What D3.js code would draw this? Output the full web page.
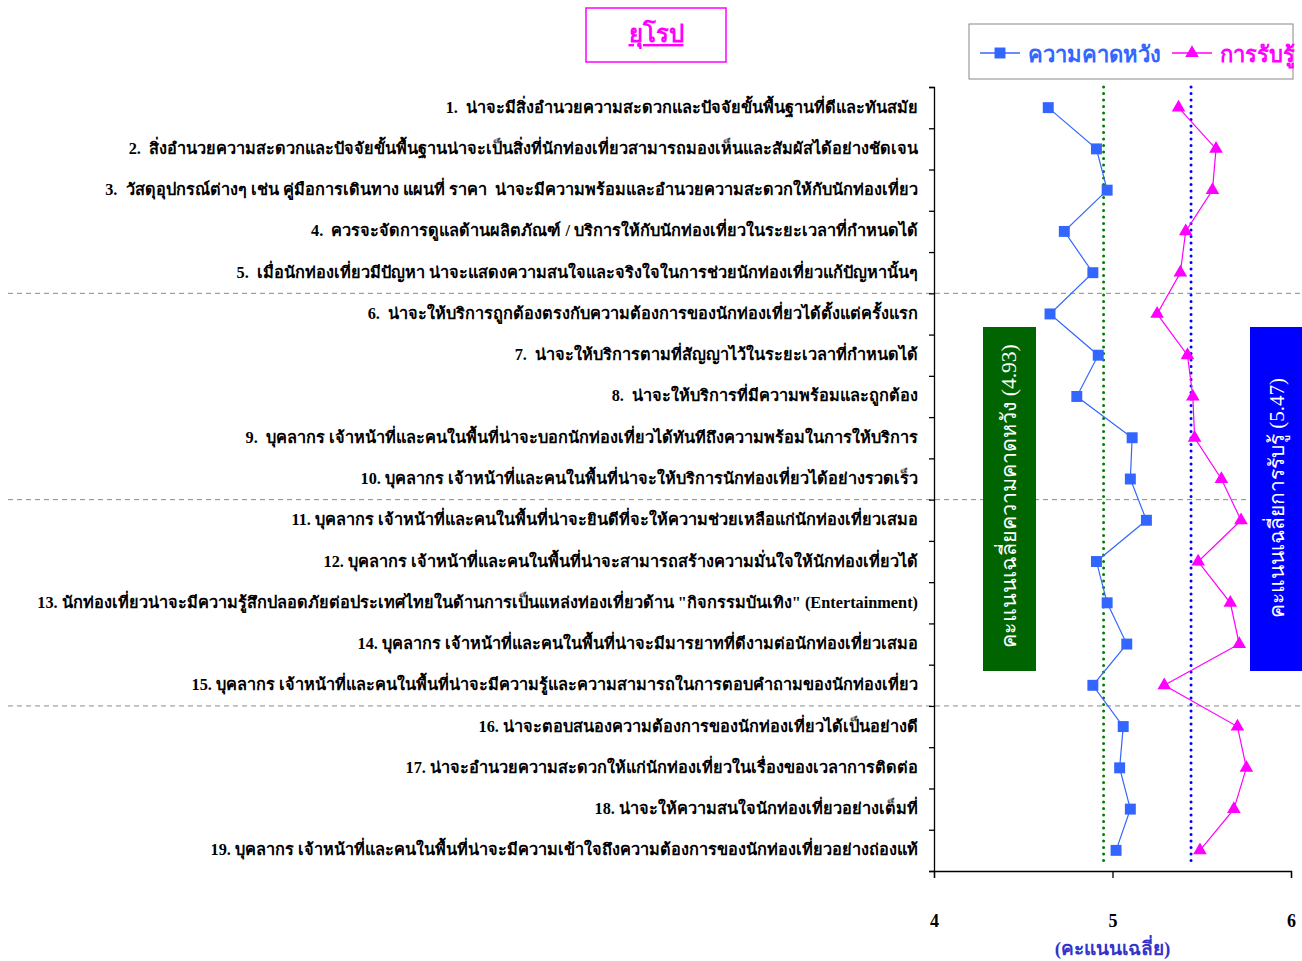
<!DOCTYPE html>
<html><head><meta charset="utf-8">
<script src="https://cdn.jsdelivr.net/npm/d3@7"></script>
<style>
html,body{margin:0;padding:0;background:#fff;}
svg{display:block;}
text{white-space:pre;}
</style></head>
<body>
<svg id="chart" width="1302" height="961"></svg>
<script>
const categories = [
"1.  น่าจะมีสิ่งอำนวยความสะดวกและปัจจัยขั้นพื้นฐานที่ดีและทันสมัย",
"2.  สิ่งอำนวยความสะดวกและปัจจัยขั้นพื้นฐานน่าจะเป็นสิ่งที่นักท่องเที่ยวสามารถมองเห็นและสัมผัสได้อย่างชัดเจน",
"3.  วัสดุอุปกรณ์ต่างๆ เช่น คู่มือการเดินทาง แผนที่ ราคา  น่าจะมีความพร้อมและอำนวยความสะดวกให้กับนักท่องเที่ยว",
"4.  ควรจะจัดการดูแลด้านผลิตภัณฑ์ / บริการให้กับนักท่องเที่ยวในระยะเวลาที่กำหนดได้",
"5.  เมื่อนักท่องเที่ยวมีปัญหา น่าจะแสดงความสนใจและจริงใจในการช่วยนักท่องเที่ยวแก้ปัญหานั้นๆ",
"6.  น่าจะให้บริการถูกต้องตรงกับความต้องการของนักท่องเที่ยวได้ตั้งแต่ครั้งแรก",
"7.  น่าจะให้บริการตามที่สัญญาไว้ในระยะเวลาที่กำหนดได้",
"8.  น่าจะให้บริการที่มีความพร้อมและถูกต้อง",
"9.  บุคลากร เจ้าหน้าที่และคนในพื้นที่น่าจะบอกนักท่องเที่ยวได้ทันทีถึงความพร้อมในการให้บริการ",
"10. บุคลากร เจ้าหน้าที่และคนในพื้นที่น่าจะให้บริการนักท่องเที่ยวได้อย่างรวดเร็ว",
"11. บุคลากร เจ้าหน้าที่และคนในพื้นที่น่าจะยินดีที่จะให้ความช่วยเหลือแก่นักท่องเที่ยวเสมอ",
"12. บุคลากร เจ้าหน้าที่และคนในพื้นที่น่าจะสามารถสร้างความมั่นใจให้นักท่องเที่ยวได้",
"13. นักท่องเที่ยวน่าจะมีความรู้สึกปลอดภัยต่อประเทศไทยในด้านการเป็นแหล่งท่องเที่ยวด้าน \"กิจกรรมบันเทิง\" (Entertainment)",
"14. บุคลากร เจ้าหน้าที่และคนในพื้นที่น่าจะมีมารยาทที่ดีงามต่อนักท่องเที่ยวเสมอ",
"15. บุคลากร เจ้าหน้าที่และคนในพื้นที่น่าจะมีความรู้และความสามารถในการตอบคำถามของนักท่องเที่ยว",
"16. น่าจะตอบสนองความต้องการของนักท่องเที่ยวได้เป็นอย่างดี",
"17. น่าจะอำนวยความสะดวกให้แก่นักท่องเที่ยวในเรื่องของเวลาการติดต่อ",
"18. น่าจะให้ความสนใจนักท่องเที่ยวอย่างเต็มที่",
"19. บุคลากร เจ้าหน้าที่และคนในพื้นที่น่าจะมีความเข้าใจถึงความต้องการของนักท่องเที่ยวอย่างถ่องแท้"
];
const expectation = [4.64,4.91,4.97,4.73,4.89,4.65,4.92,4.80,5.11,5.10,5.19,4.91,4.97,5.08,4.89,5.06,5.04,5.10,5.02];
const perception  = [5.37,5.58,5.56,5.41,5.38,5.25,5.42,5.45,5.46,5.61,5.72,5.48,5.66,5.71,5.29,5.70,5.75,5.68,5.49];
const xTicks = [4,5,6];
const seriesNames = ["ความคาดหวัง","การรับรู้"];
const expAvgPos = 4.95, percAvgPos = 5.44;
const expAvgLabel = "คะแนนเฉลี่ยความคาดหวัง (4.93)";
const percAvgLabel = "คะแนนเฉลี่ยการรับรู้ (5.47)";
const groupBreaks = [5,10,15];
const title = "ยุโรป";
const xTitle = "(คะแนนเฉลี่ย)";

(function(){
const svg = d3.select("#chart");
const FONT = "'Liberation Serif', serif";
const L = 934, R = 1291, T = 87, B = 871;
const x = d3.scaleLinear().domain([4,6]).range([L,R]);
const y = d3.scaleBand().domain(d3.range(categories.length)).range([T,B]);
const yc = i => y(i) + y.bandwidth()/2;

svg.append("g").selectAll("line").data(groupBreaks).join("line")
  .attr("x1",8).attr("x2",1302)
  .attr("y1",d=>y(d)).attr("y2",d=>y(d))
  .attr("stroke","#888").attr("stroke-width",1).attr("stroke-dasharray","5,4");

const yAxis = svg.append("g").attr("transform",`translate(${L},0)`)
  .call(d3.axisLeft(d3.scaleLinear().domain([0,19]).range([T,B])).tickValues(d3.range(0,20)).tickSize(5).tickFormat(""));
yAxis.select(".domain").attr("stroke","#000").attr("stroke-width",1.3);
yAxis.selectAll(".tick line").attr("stroke","#000").attr("stroke-width",1.3);

svg.append("g").selectAll("text").data(categories).join("text")
  .attr("x",918).attr("y",(d,i)=>yc(i)+5)
  .attr("text-anchor","end")
  .attr("font-family",FONT).attr("font-weight","bold").attr("font-size",16.3)
  .attr("fill","#000").text(d=>d);

const xAxis = svg.append("g").attr("transform",`translate(0,${B})`)
  .call(d3.axisBottom(x).tickValues(xTicks).tickSize(7).tickPadding(36).tickFormat(d3.format("d")));
xAxis.select(".domain").attr("stroke","#000").attr("stroke-width",1.3);
xAxis.selectAll(".tick line").attr("stroke","#000").attr("stroke-width",1.3);
xAxis.selectAll(".tick text").attr("font-family",FONT).attr("font-weight","bold").attr("font-size",18).attr("fill","#000");

svg.append("text").attr("x",x(5)).attr("y",955).attr("text-anchor","middle")
  .attr("font-family",FONT).attr("font-weight","bold").attr("font-size",19).attr("fill","#3333cc").text(xTitle);

svg.append("line").attr("x1",x(expAvgPos)).attr("x2",x(expAvgPos)).attr("y1",T).attr("y2",865)
  .attr("stroke","#008000").attr("stroke-width",3).attr("stroke-linecap","round").attr("stroke-dasharray","0,6.5");
svg.append("line").attr("x1",x(percAvgPos)).attr("x2",x(percAvgPos)).attr("y1",T).attr("y2",865)
  .attr("stroke","#0000ff").attr("stroke-width",3).attr("stroke-linecap","round").attr("stroke-dasharray","0,6.5");

svg.append("rect").attr("x",983).attr("y",327).attr("width",53).attr("height",344).attr("fill","#006400");
svg.append("text").attr("transform",`translate(1016,496) rotate(-90)`).attr("text-anchor","middle")
  .attr("font-family",FONT).attr("font-size",21.5).attr("fill","#fff").text(expAvgLabel);
svg.append("rect").attr("x",1250).attr("y",327).attr("width",52).attr("height",344).attr("fill","#0000ff");
svg.append("text").attr("transform",`translate(1284,498) rotate(-90)`).attr("text-anchor","middle")
  .attr("font-family",FONT).attr("font-size",21).attr("fill","#fff").text(percAvgLabel);

const line = d3.line().x(d=>x(d[0])).y(d=>yc(d[1]));
svg.append("path").datum(expectation.map((v,i)=>[v,i])).attr("d",line).attr("fill","none").attr("stroke","#3366ff").attr("stroke-width",1.2);
svg.append("path").datum(perception.map((v,i)=>[v,i])).attr("d",line).attr("fill","none").attr("stroke","#ff00ff").attr("stroke-width",1.2);
const sq = d3.symbol().type(d3.symbolSquare).size(120);
const tri = d3.symbol().type(d3.symbolTriangle).size(80);
svg.append("g").selectAll("path").data(expectation).join("path")
  .attr("transform",(d,i)=>`translate(${x(d)},${yc(i)})`).attr("d",sq).attr("fill","#3366ff");
svg.append("g").selectAll("path").data(perception).join("path")
  .attr("transform",(d,i)=>`translate(${x(d)},${yc(i)})`).attr("d",tri).attr("fill","#ff00ff");

svg.append("rect").attr("x",586).attr("y",8).attr("width",140).attr("height",54).attr("fill","#fff").attr("stroke","#ff00ff").attr("stroke-width",1.5);
svg.append("text").attr("x",656).attr("y",42).attr("text-anchor","middle")
  .attr("font-family",FONT).attr("font-weight","bold").attr("font-size",24).attr("fill","#ff00ff")
  .attr("text-decoration","underline").text(title);

svg.append("rect").attr("x",969).attr("y",24).attr("width",324).attr("height",55).attr("fill","#fff").attr("stroke","#888").attr("stroke-width",1);
const lg = svg.append("g");
lg.append("line").attr("x1",980).attr("x2",1020).attr("y1",53).attr("y2",53).attr("stroke","#3366ff").attr("stroke-width",1.5);
lg.append("path").attr("transform","translate(1000,53)").attr("d",sq).attr("fill","#3366ff");
lg.append("text").attr("x",1028).attr("y",62).attr("font-family",FONT).attr("font-weight","bold").attr("font-size",22).attr("fill","#3366ff").text(seriesNames[0]);
lg.append("line").attr("x1",1172).attr("x2",1212).attr("y1",53).attr("y2",53).attr("stroke","#ff00ff").attr("stroke-width",1.5);
lg.append("path").attr("transform","translate(1192,53)").attr("d",tri).attr("fill","#ff00ff");
lg.append("text").attr("x",1220).attr("y",62).attr("font-family",FONT).attr("font-weight","bold").attr("font-size",22).attr("fill","#ff00ff").text(seriesNames[1]);
})();
</script>
</body></html>
